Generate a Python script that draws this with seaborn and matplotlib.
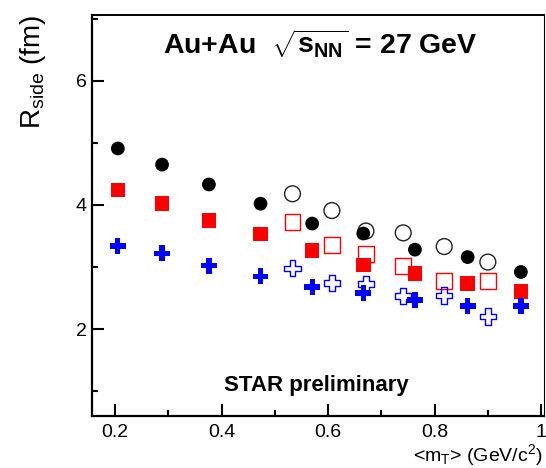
import matplotlib
matplotlib.use("Agg")
import matplotlib.pyplot as plt
import numpy as np
import pandas as pd
import seaborn as sns
from matplotlib.ticker import FixedLocator

# <m_T> positions (GeV/c^2) and R_side values (fm)
mt_filled = [0.205, 0.288, 0.376, 0.473, 0.570, 0.666, 0.763, 0.862, 0.962]
rside_black = [4.91, 4.65, 4.33, 4.02, 3.70, 3.54, 3.28, 3.16, 2.92]
rside_red = [4.24, 4.02, 3.75, 3.53, 3.27, 3.03, 2.90, 2.73, 2.61]
rside_blue = [3.34, 3.22, 3.02, 2.85, 2.68, 2.58, 2.47, 2.37, 2.37]

mt_open = [0.533, 0.607, 0.671, 0.741, 0.818, 0.900]
rside_black_open = [4.18, 3.91, 3.58, 3.55, 3.33, 3.08]
rside_red_open = [3.72, 3.35, 3.21, 3.01, 2.78, 2.78]
rside_blue_open = [2.98, 2.74, 2.73, 2.53, 2.54, 2.20]

x_ticks = [0.2, 0.4, 0.6, 0.8, 1.0]
x_tick_labels = ["0.2", "0.4", "0.6", "0.8", "1"]
y_ticks = [2, 4, 6]
y_tick_labels = ["2", "4", "6"]

sns.set_theme(style="ticks")
plt.rcParams["font.family"] = ["Liberation Sans", "DejaVu Sans"]
plt.rcParams.update({
    "mathtext.fontset": "custom",
    "mathtext.rm": "Liberation Sans",
    "mathtext.it": "Liberation Sans:italic",
    "mathtext.bf": "Liberation Sans:bold",
    "text.color": "black",
    "axes.labelcolor": "black",
    "xtick.color": "black",
    "ytick.color": "black",
    "axes.edgecolor": "black",
})

W, H = 546, 468
fig = plt.figure(figsize=(W / 100, H / 100), dpi=100)
left, right, top, bottom = 92.3, 544.3, 15, 416
ax = fig.add_axes([left / W, 1 - bottom / H, (right - left) / W, (bottom - top) / H])

filled = [
    (rside_black, "o", 98, "black"),
    (rside_red, "s", 110, "#ff0000"),
    (rside_blue, "P", 130, "#0000ff"),
]
for vals, mk, size, col in filled:
    df = pd.DataFrame({"mt": mt_filled, "R": vals})
    sns.scatterplot(data=df, x="mt", y="R", ax=ax, marker=mk, s=size,
                    color=col, edgecolor="none", linewidth=0, zorder=3,
                    legend=False)

hollow = [
    (rside_black_open, "o", 130, "#222222"),
    (rside_red_open, "s", 130, "#ff0000"),
    (rside_blue_open, "P", 140, "#0000ff"),
]
for vals, mk, size, col in hollow:
    df = pd.DataFrame({"mt": mt_open, "R": vals})
    sns.scatterplot(data=df, x="mt", y="R", ax=ax, marker=mk, s=size,
                    color=col, facecolor="none", edgecolor=col, linewidth=1.0,
                    zorder=2, legend=False)

ax.set_xlim(0.157, 1.006)
ax.set_ylim(0.6, 7.06)

ax.xaxis.set_major_locator(FixedLocator(x_ticks))
ax.set_xticklabels(x_tick_labels)
ax.xaxis.set_minor_locator(FixedLocator([0.3, 0.5, 0.7, 0.9]))
ax.yaxis.set_major_locator(FixedLocator(y_ticks))
ax.set_yticklabels(y_tick_labels)
ax.yaxis.set_minor_locator(FixedLocator([1, 3, 5, 7]))

ax.tick_params(which="major", direction="in", length=8.6, width=1.5,
               labelsize=14)
ax.tick_params(which="minor", direction="in", length=4.3, width=1.5)
ax.tick_params(axis="x", which="major", pad=6)
ax.tick_params(axis="y", which="major", pad=4)

for side, lw in (("left", 1.6), ("bottom", 1.6), ("top", 1.4), ("right", 0.8)):
    ax.spines[side].set_visible(True)
    ax.spines[side].set_linewidth(lw)
    ax.spines[side].set_color("black")

ax.set_xlabel(r"<m$_{\mathrm{T}}$> (GeV/c$^{2}$)", fontsize=14, loc="right")
ax.xaxis.set_label_coords(0.996, -0.066)
ax.set_ylabel(r"R$_{\mathrm{side}}$ (fm)", fontsize=20, loc="top")
ax.yaxis.set_label_coords(-0.098, 1.0)

ax.text(0.504, 0.903, r"Au+Au  $\sqrt{\mathbf{s}_{\mathbf{NN}}}$ = 27 GeV",
        transform=ax.transAxes, ha="center", va="baseline",
        fontsize=20.5, fontweight="bold")
ax.text(0.496, 0.063, "STAR preliminary", transform=ax.transAxes,
        ha="center", va="baseline", fontsize=16, fontweight="bold")

fig.savefig("out.png", dpi=100)
